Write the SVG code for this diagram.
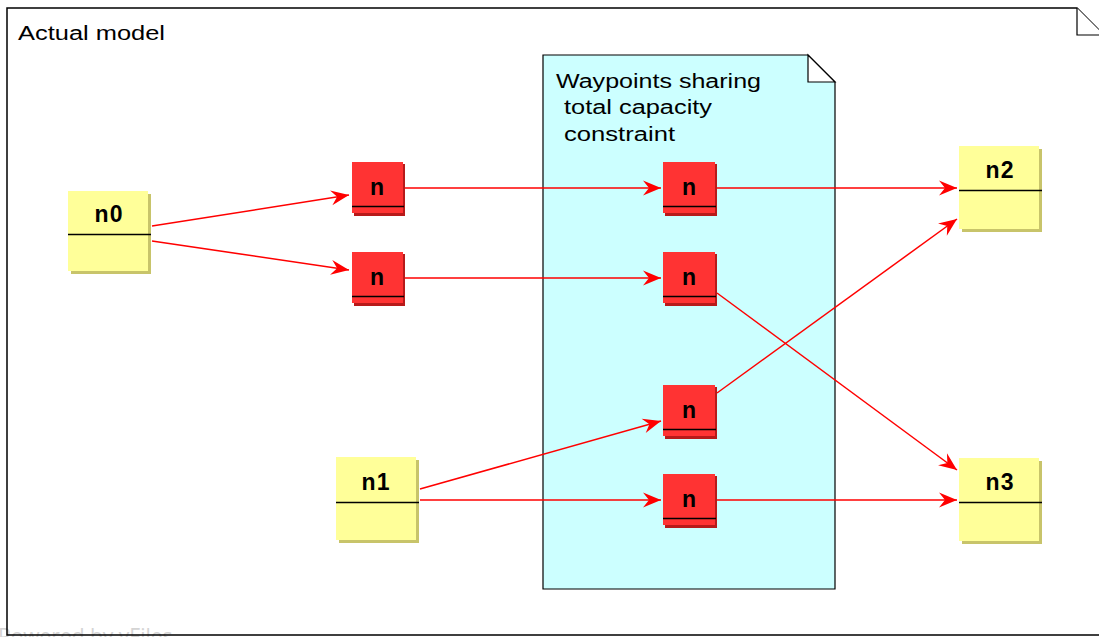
<svg xmlns="http://www.w3.org/2000/svg" width="1099" height="637" viewBox="0 0 1099 637">
<style>
.frame{fill:#ffffff;stroke:#000;stroke-width:1.5}
.note{fill:#ccffff;stroke:#000;stroke-width:1.2}
.fold{fill:#ffffff;stroke:#000;stroke-width:1.2}
.ysh{fill:#c8c46a}
.ybody{fill:#ffff99}
.rsh{fill:#b81a1a}
.rbody{fill:#ff3333}
.hdr{stroke:#000;stroke-width:1.5}
.lbl{font-family:"Liberation Sans",Arial,sans-serif;font-weight:bold;font-size:23px;fill:#000;text-anchor:middle}
.txt{font-family:"Liberation Sans",Arial,sans-serif;font-size:20px;fill:#000}
.edge{fill:none;stroke:#ff0000;stroke-width:1.5}
</style>
<defs>
<marker id="arr" viewBox="-19 -8 20 16" refX="0" refY="0" markerWidth="20" markerHeight="16" markerUnits="userSpaceOnUse" orient="auto">
<path d="M0,0 L-18,-7.5 L-12,0 L-18,7.5 Z" fill="#ff0000"/>
</marker>
</defs>
<rect width="1099" height="637" fill="#ffffff"/>
<text x="-2" y="644" font-family="'Open Sans',sans-serif" font-size="21" fill="#d4d4d4">Powered by yFiles</text>
<g id="frame">
<path class="frame" d="M7,8 L1077,8 L1104,35 L1104,635 L7,635 Z" fill-opacity="0"/>
<path class="fold" d="M1077,8 L1077,35 L1104,35" fill="none"/>
<text class="txt" x="18" y="40" textLength="147" lengthAdjust="spacingAndGlyphs">Actual model</text>
</g>
<g id="note">
<path class="note" d="M543,55 L808,55 L835,82 L835,589 L543,589 Z"/>
<path class="fold" d="M808,55 L808,82 L835,82 Z"/>
<text class="txt" x="556" y="88" textLength="205" lengthAdjust="spacingAndGlyphs">Waypoints sharing</text>
<text class="txt" x="564" y="114" textLength="148" lengthAdjust="spacingAndGlyphs">total capacity</text>
<text class="txt" x="564" y="141" textLength="111" lengthAdjust="spacingAndGlyphs">constraint</text>
</g>
<g id="connectors">
<path class="edge" d="M152,226 L349,195" marker-end="url(#arr)"/>
<path class="edge" d="M152,241 L349,270" marker-end="url(#arr)"/>
<path class="edge" d="M404,188 L661,188" marker-end="url(#arr)"/>
<path class="edge" d="M404,278 L661,278" marker-end="url(#arr)"/>
<path class="edge" d="M717,188 L957,188" marker-end="url(#arr)"/>
<path class="edge" d="M717,293 L957,470" marker-end="url(#arr)"/>
<path class="edge" d="M717,393 L957,219" marker-end="url(#arr)"/>
<path class="edge" d="M420,489 L661,421" marker-end="url(#arr)"/>
<path class="edge" d="M420,500 L661,500" marker-end="url(#arr)"/>
<path class="edge" d="M717,500 L957,500" marker-end="url(#arr)"/>
</g>
<g id="n0">
<rect class="ysh" x="71" y="194" width="80" height="80"/>
<rect class="ybody" x="68" y="191" width="80" height="80"/>
<line class="hdr" x1="68" y1="234.5" x2="151" y2="234.5"/>
<text class="lbl" x="109" y="222" letter-spacing="1">n0</text>
</g>
<g id="n1">
<rect class="ysh" x="339" y="460" width="80" height="83"/>
<rect class="ybody" x="336" y="457" width="80" height="83"/>
<line class="hdr" x1="336" y1="502.5" x2="419" y2="502.5"/>
<text class="lbl" x="376" y="490" letter-spacing="1">n1</text>
</g>
<g id="n2">
<rect class="ysh" x="962" y="149" width="80" height="83"/>
<rect class="ybody" x="959" y="146" width="80" height="83"/>
<line class="hdr" x1="959" y1="190.5" x2="1042" y2="190.5"/>
<text class="lbl" x="1000" y="178" letter-spacing="1">n2</text>
</g>
<g id="n3">
<rect class="ysh" x="962" y="461" width="80" height="83"/>
<rect class="ybody" x="959" y="458" width="80" height="83"/>
<line class="hdr" x1="959" y1="502.5" x2="1042" y2="502.5"/>
<text class="lbl" x="1000" y="490" letter-spacing="1">n3</text>
</g>
<g id="wa">
<rect class="rsh" x="354" y="164" width="51" height="52"/>
<rect class="rbody" x="352" y="162" width="51" height="51"/>
<line class="hdr" x1="352" y1="206.5" x2="404" y2="206.5"/>
<text class="lbl" x="377" y="195">n</text>
</g>
<g id="wb">
<rect class="rsh" x="354" y="254" width="51" height="52"/>
<rect class="rbody" x="352" y="252" width="51" height="51"/>
<line class="hdr" x1="352" y1="296.5" x2="404" y2="296.5"/>
<text class="lbl" x="377" y="285">n</text>
</g>
<g id="wc">
<rect class="rsh" x="665" y="164" width="52" height="52"/>
<rect class="rbody" x="663" y="162" width="52" height="51"/>
<line class="hdr" x1="663" y1="206.5" x2="716" y2="206.5"/>
<text class="lbl" x="689" y="195">n</text>
</g>
<g id="wd">
<rect class="rsh" x="665" y="254" width="52" height="52"/>
<rect class="rbody" x="663" y="252" width="52" height="51"/>
<line class="hdr" x1="663" y1="296.5" x2="716" y2="296.5"/>
<text class="lbl" x="689" y="285">n</text>
</g>
<g id="we">
<rect class="rsh" x="665" y="387" width="52" height="52"/>
<rect class="rbody" x="663" y="385" width="52" height="51"/>
<line class="hdr" x1="663" y1="429.5" x2="716" y2="429.5"/>
<text class="lbl" x="689" y="418">n</text>
</g>
<g id="wf">
<rect class="rsh" x="665" y="476" width="52" height="52"/>
<rect class="rbody" x="663" y="474" width="52" height="51"/>
<line class="hdr" x1="663" y1="518.5" x2="716" y2="518.5"/>
<text class="lbl" x="689" y="507">n</text>
</g>
</svg>
